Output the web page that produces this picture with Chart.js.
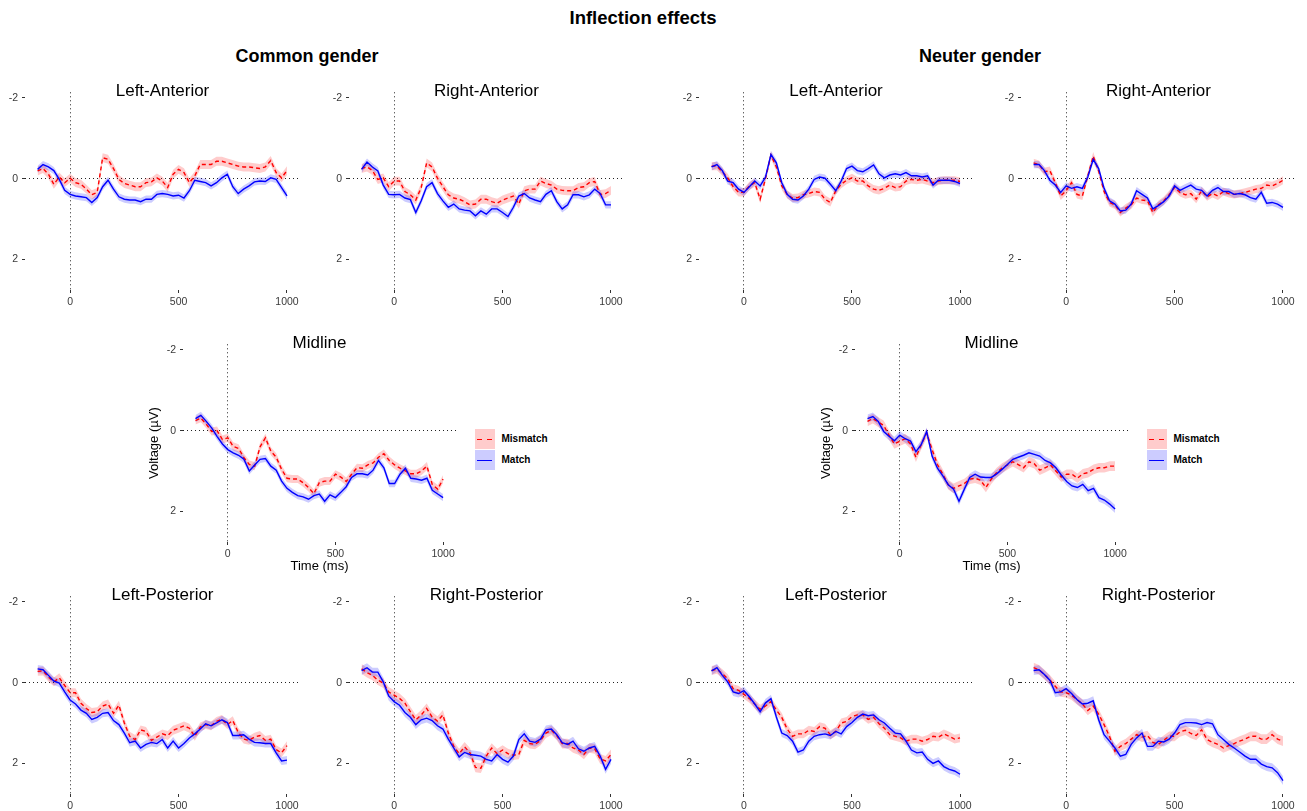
<!DOCTYPE html>
<html>
<head>
<meta charset="utf-8">
<title>Inflection effects</title>
<script src="https://cdn.jsdelivr.net/npm/chart.js@4.4.1/dist/chart.umd.min.js"></script>
<style>
  html, body { margin: 0; padding: 0; background: #fff; }
  body { width: 1307px; height: 811px; position: relative; overflow: hidden;
         font-family: "Liberation Sans", Arial, sans-serif; }
  canvas { position: absolute; }
  .txt { position: absolute; transform: translate(-50%, -50%); white-space: nowrap; color: #000; line-height: 1; }
  .key { position: absolute; width: 20px; height: 20px; }
  .keyline { position: absolute; left: 2px; width: 15px; height: 1px; top: 10px; }
  .keytxt { position: absolute; font-size: 10px; font-weight: bold; color: #000; line-height: 1; transform: translateY(-50%); }
</style>
</head>
<body>
<script>
// time axis (ms)
const times = [-150, -125, -100, -75, -50, -25, 0, 25, 50, 75, 100, 125, 150, 175, 200, 225, 250, 275, 300, 325,
  350, 375, 400, 425, 450, 475, 500, 525, 550, 575, 600, 625, 650, 675, 700, 725, 750, 775, 800, 825,
  850, 875, 900, 925, 950, 975, 1000];

const xTicks = [0, 500, 1000];
const yTicks = [-2, 0, 2];
const conditions = ['Mismatch', 'Match'];

// valores (µV), uno por instante de "times"
const commonLAMismatch = [-0.19, -0.25, -0.11, 0.14, -0.04, 0.1, -0.01, 0.1, 0.14, 0.26, 0.4, 0.34, -0.52, -0.48, -0.25, 0.02, 0.12, 0.16, 0.2, 0.2, 0.1, 0.08, -0.02, 0.06, 0.22, -0.11, -0.23, -0.15, 0.1, -0.07, -0.35, -0.35, -0.35, -0.43, -0.43, -0.39, -0.35, -0.31, -0.29, -0.29, -0.27, -0.25, -0.29, -0.45, -0.15, -0.02, -0.2];
const commonLAMatch = [-0.23, -0.35, -0.29, -0.2, 0.02, 0.29, 0.39, 0.43, 0.45, 0.47, 0.59, 0.47, 0.2, 0.04, 0.26, 0.45, 0.51, 0.53, 0.53, 0.57, 0.51, 0.51, 0.39, 0.37, 0.39, 0.43, 0.41, 0.48, 0.3, 0.04, 0.07, 0.1, 0.18, 0.1, -0.02, -0.11, 0.2, 0.37, 0.26, 0.18, 0.08, 0.06, 0.07, -0.02, 0.02, 0.22, 0.43];

const commonRAMismatch = [-0.25, -0.29, -0.2, 0.02, -0.02, 0.2, 0.06, 0.06, 0.32, 0.4, 0.53, 0.22, -0.39, -0.29, -0.01, 0.2, 0.4, 0.48, 0.51, 0.57, 0.65, 0.63, 0.51, 0.51, 0.57, 0.61, 0.53, 0.48, 0.43, 0.63, 0.3, 0.26, 0.26, 0.06, 0.12, 0.16, 0.26, 0.29, 0.3, 0.3, 0.22, 0.2, 0.1, 0.07, 0.39, 0.37, 0.29];
const commonRAMatch = [-0.23, -0.41, -0.29, -0.19, 0.16, 0.39, 0.4, 0.39, 0.48, 0.52, 0.84, 0.55, 0.2, 0.1, 0.37, 0.55, 0.71, 0.63, 0.75, 0.78, 0.8, 0.92, 0.8, 0.88, 0.75, 0.75, 0.84, 0.94, 0.71, 0.43, 0.37, 0.48, 0.53, 0.57, 0.39, 0.3, 0.57, 0.75, 0.65, 0.4, 0.4, 0.45, 0.4, 0.26, 0.37, 0.65, 0.65];

const neuterLAMismatch = [-0.31, -0.31, -0.17, -0.02, 0.2, 0.34, 0.34, 0.18, 0.1, 0.51, -0.01, -0.58, -0.29, 0.18, 0.39, 0.48, 0.47, 0.4, 0.37, 0.32, 0.34, 0.51, 0.59, 0.3, 0.14, 0.04, -0.02, 0.06, 0.06, 0.18, 0.26, 0.29, 0.24, 0.16, 0.22, 0.2, 0.06, 0.02, 0.04, 0.02, 0.06, 0.1, 0.06, 0.04, 0.04, 0.04, 0.07];
const neuterLAMatch = [-0.29, -0.35, -0.2, 0.06, 0.1, 0.26, 0.34, 0.2, 0.06, 0.18, -0.04, -0.6, -0.39, 0.1, 0.39, 0.51, 0.53, 0.43, 0.26, 0.02, -0.04, -0.01, 0.14, 0.3, 0.06, -0.25, -0.31, -0.2, -0.17, -0.25, -0.34, -0.12, -0.02, -0.09, -0.12, -0.09, -0.15, -0.07, -0.07, -0.04, -0.07, 0.16, 0.04, 0.04, 0.04, 0.07, 0.12];

const neuterRAMismatch = [-0.39, -0.35, -0.17, -0.2, 0.1, 0.43, 0.3, 0.1, 0.39, 0.43, -0.07, -0.56, -0.19, 0.32, 0.59, 0.65, 0.84, 0.73, 0.65, 0.48, 0.53, 0.55, 0.84, 0.65, 0.55, 0.4, 0.22, 0.34, 0.4, 0.37, 0.51, 0.3, 0.45, 0.37, 0.43, 0.32, 0.37, 0.39, 0.37, 0.34, 0.3, 0.26, 0.24, 0.16, 0.18, 0.12, 0.04];
const neuterRAMatch = [-0.35, -0.35, -0.2, 0.04, 0.16, 0.34, 0.18, 0.24, 0.2, 0.24, -0.04, -0.48, -0.25, 0.24, 0.55, 0.63, 0.8, 0.78, 0.63, 0.3, 0.39, 0.48, 0.75, 0.67, 0.57, 0.43, 0.18, 0.29, 0.22, 0.16, 0.26, 0.29, 0.43, 0.29, 0.22, 0.32, 0.32, 0.39, 0.37, 0.4, 0.47, 0.51, 0.34, 0.61, 0.59, 0.63, 0.71];

const commonMidMismatch = [-0.25, -0.31, -0.16, 0.02, 0.0, 0.22, 0.18, 0.39, 0.44, 0.67, 0.84, 0.88, 0.4, 0.18, 0.51, 0.66, 0.96, 1.18, 1.2, 1.2, 1.29, 1.41, 1.56, 1.29, 1.25, 1.25, 1.08, 1.15, 1.26, 1.08, 0.92, 0.93, 0.85, 0.8, 0.66, 0.57, 0.74, 0.85, 0.93, 1.0, 1.07, 1.07, 1.0, 0.88, 1.34, 1.45, 1.2];
const commonMidMatch = [-0.3, -0.38, -0.23, -0.07, 0.14, 0.33, 0.47, 0.55, 0.61, 0.71, 1.0, 0.85, 0.71, 0.69, 0.88, 0.98, 1.25, 1.43, 1.53, 1.61, 1.64, 1.7, 1.61, 1.57, 1.75, 1.59, 1.66, 1.53, 1.39, 1.16, 1.07, 1.07, 1.1, 0.98, 0.74, 0.92, 1.31, 1.31, 1.08, 0.93, 1.18, 1.2, 1.23, 1.18, 1.48, 1.57, 1.66];

const neuterMidMismatch = [-0.23, -0.3, -0.21, -0.13, 0.11, 0.33, 0.26, 0.2, 0.33, 0.66, 0.34, 0.06, 0.47, 0.84, 1.08, 1.34, 1.43, 1.37, 1.31, 1.2, 1.18, 1.23, 1.41, 1.2, 1.04, 0.93, 0.85, 0.77, 0.84, 0.92, 0.77, 0.82, 0.98, 0.92, 0.85, 1.0, 1.15, 1.08, 1.08, 1.18, 1.07, 1.04, 0.96, 0.92, 0.92, 0.88, 0.88];
const neuterMidMatch = [-0.3, -0.35, -0.23, 0.02, 0.14, 0.25, 0.11, 0.2, 0.26, 0.52, 0.34, 0.02, 0.63, 0.93, 1.12, 1.34, 1.45, 1.75, 1.45, 1.16, 1.08, 1.15, 1.16, 1.16, 1.07, 0.96, 0.84, 0.71, 0.66, 0.61, 0.55, 0.59, 0.63, 0.74, 0.8, 0.92, 1.1, 1.26, 1.37, 1.41, 1.33, 1.49, 1.43, 1.66, 1.72, 1.82, 1.94];

const commonLPMismatch = [-0.28, -0.29, -0.14, -0.02, -0.12, 0.07, 0.25, 0.25, 0.51, 0.64, 0.74, 0.72, 0.58, 0.53, 0.76, 0.56, 1.0, 1.33, 1.41, 1.17, 1.21, 1.43, 1.35, 1.27, 1.31, 1.18, 1.13, 1.07, 1.13, 1.33, 1.1, 1.04, 1.07, 0.96, 0.91, 1.04, 0.94, 1.23, 1.4, 1.43, 1.35, 1.31, 1.43, 1.4, 1.66, 1.74, 1.56];
const commonLPMatch = [-0.34, -0.32, -0.18, -0.04, 0.01, 0.23, 0.43, 0.53, 0.68, 0.76, 0.91, 0.86, 0.76, 0.74, 0.94, 1.04, 1.25, 1.49, 1.45, 1.62, 1.53, 1.48, 1.51, 1.41, 1.62, 1.45, 1.62, 1.51, 1.37, 1.27, 1.15, 1.02, 1.07, 1.0, 0.92, 0.99, 1.31, 1.31, 1.29, 1.4, 1.48, 1.49, 1.51, 1.51, 1.74, 1.94, 1.92];

const commonRPMismatch = [-0.34, -0.25, -0.18, -0.06, 0.01, 0.23, 0.31, 0.39, 0.51, 0.72, 0.92, 0.8, 0.64, 0.85, 0.95, 0.8, 1.25, 1.58, 1.76, 1.59, 1.74, 2.1, 2.12, 1.82, 1.62, 1.76, 1.67, 1.76, 1.8, 1.78, 1.43, 1.51, 1.53, 1.43, 1.25, 1.18, 1.31, 1.51, 1.51, 1.62, 1.67, 1.78, 1.62, 1.64, 1.89, 1.94, 1.78];
const commonRPMatch = [-0.3, -0.37, -0.26, -0.26, -0.02, 0.33, 0.47, 0.56, 0.74, 0.86, 1.04, 0.92, 0.88, 0.94, 1.07, 1.15, 1.4, 1.62, 1.84, 1.73, 1.78, 1.8, 1.82, 1.9, 1.94, 1.78, 1.9, 1.97, 1.82, 1.41, 1.27, 1.45, 1.48, 1.4, 1.17, 1.15, 1.29, 1.49, 1.53, 1.45, 1.64, 1.7, 1.62, 1.58, 1.82, 2.15, 1.9];

const neuterLPMismatch = [-0.3, -0.33, -0.22, -0.1, 0.15, 0.19, 0.29, 0.39, 0.53, 0.66, 0.58, 0.47, 0.68, 0.86, 1.15, 1.33, 1.27, 1.27, 1.18, 1.21, 1.09, 1.13, 1.29, 1.21, 1.0, 0.96, 0.84, 0.8, 0.8, 0.91, 0.86, 1.02, 1.13, 1.29, 1.33, 1.37, 1.45, 1.4, 1.4, 1.45, 1.41, 1.33, 1.35, 1.27, 1.33, 1.4, 1.37];
const neuterLPMatch = [-0.29, -0.37, -0.18, -0.02, 0.23, 0.27, 0.2, 0.35, 0.53, 0.72, 0.5, 0.4, 0.85, 1.25, 1.31, 1.45, 1.72, 1.67, 1.45, 1.33, 1.29, 1.27, 1.31, 1.21, 1.27, 1.09, 0.99, 0.86, 0.78, 0.82, 0.8, 0.92, 1.0, 1.13, 1.25, 1.27, 1.45, 1.67, 1.74, 1.72, 1.9, 2.0, 1.94, 2.08, 2.15, 2.19, 2.27];

const neuterRPMismatch = [-0.37, -0.32, -0.2, -0.07, 0.09, 0.23, 0.25, 0.31, 0.42, 0.53, 0.69, 0.58, 0.78, 1.04, 1.33, 1.7, 1.58, 1.51, 1.4, 1.29, 1.35, 1.31, 1.48, 1.53, 1.43, 1.33, 1.33, 1.22, 1.18, 1.26, 1.31, 1.17, 1.41, 1.48, 1.53, 1.62, 1.56, 1.51, 1.45, 1.4, 1.33, 1.33, 1.4, 1.4, 1.29, 1.4, 1.45];
const neuterRPMatch = [-0.3, -0.32, -0.2, -0.06, 0.25, 0.23, 0.15, 0.27, 0.42, 0.53, 0.51, 0.45, 0.92, 1.29, 1.45, 1.62, 1.82, 1.78, 1.53, 1.37, 1.25, 1.58, 1.58, 1.45, 1.47, 1.4, 1.25, 1.04, 0.99, 0.99, 1.0, 1.04, 0.99, 1.02, 1.29, 1.41, 1.53, 1.62, 1.72, 1.82, 1.9, 1.9, 2.02, 2.08, 2.11, 2.23, 2.43];

// error estandar aproximado (ancho de la banda), por panel
const seMismatch = [0.11, 0.11, 0.1, 0.1, 0.1, 0.12, 0.11, 0.12, 0.11, 0.12];
const seMatch = [0.09, 0.09, 0.09, 0.09, 0.09, 0.1, 0.1, 0.11, 0.1, 0.11];

// ---------- layout ----------
const FONT = '"Liberation Sans", Arial, sans-serif';
const X_MIN = -208, X_MAX = 1060;
const Y_MIN = -2.14, Y_MAX = 2.76;
const PLOT_H = 200;
const RED = '#FF0000', BLUE = '#0000FF';
const RED_FILL = 'rgba(255,0,0,0.2)', BLUE_FILL = 'rgba(0,0,255,0.2)';

const panels = [
  { title: 'Left-Anterior',   left: 25,   top: 90,  w: 275, mismatch: commonLAMismatch,  match: commonLAMatch },
  { title: 'Right-Anterior',  left: 349,  top: 90,  w: 275, mismatch: commonRAMismatch,  match: commonRAMatch },
  { title: 'Left-Anterior',   left: 699,  top: 90,  w: 274, mismatch: neuterLAMismatch,  match: neuterLAMatch },
  { title: 'Right-Anterior',  left: 1021, top: 90,  w: 275, mismatch: neuterRAMismatch,  match: neuterRAMatch },
  { title: 'Midline',         left: 183,  top: 342, w: 273, mismatch: commonMidMismatch, match: commonMidMatch, mid: true },
  { title: 'Midline',         left: 855,  top: 342, w: 273, mismatch: neuterMidMismatch, match: neuterMidMatch, mid: true },
  { title: 'Left-Posterior',  left: 25,   top: 594, w: 275, mismatch: commonLPMismatch,  match: commonLPMatch },
  { title: 'Right-Posterior', left: 349,  top: 594, w: 275, mismatch: commonRPMismatch,  match: commonRPMatch },
  { title: 'Left-Posterior',  left: 699,  top: 594, w: 274, mismatch: neuterLPMismatch,  match: neuterLPMatch },
  { title: 'Right-Posterior', left: 1021, top: 594, w: 275, mismatch: neuterRPMismatch,  match: neuterRPMatch }
];

function addText(txt, x, y, css) {
  const d = document.createElement('div');
  d.className = 'txt';
  d.textContent = txt;
  d.style.left = x + 'px';
  d.style.top = y + 'px';
  Object.assign(d.style, css || {});
  document.body.appendChild(d);
}

function addLegend(x, y) {
  const colors = [[RED_FILL, RED, true], [BLUE_FILL, BLUE, false]];
  conditions.forEach((name, i) => {
    const k = document.createElement('div');
    k.className = 'key';
    k.style.left = x + 'px';
    k.style.top = (y + i * 20.5) + 'px';
    k.style.background = colors[i][0];
    const l = document.createElement('div');
    l.className = 'keyline';
    l.style.background = colors[i][2]
      ? 'repeating-linear-gradient(to right, ' + RED + ' 0 5px, transparent 5px 10px)'
      : colors[i][1];
    k.appendChild(l);
    document.body.appendChild(k);
    const t = document.createElement('div');
    t.className = 'keytxt';
    t.textContent = name;
    t.style.left = (x + 26.5) + 'px';
    t.style.top = (y + i * 20.5 + 10) + 'px';
    document.body.appendChild(t);
  });
}

const pts = (vals, off) => times.map((t, i) => ({ x: t, y: vals[i] + off }));

function axisGrid() {
  return {
    color: c => (c.tick && c.tick.value === 0) ? '#222222' : 'rgba(0,0,0,0)',
    lineWidth: 1,
    drawTicks: true,
    tickLength: 3,
    tickColor: '#333333',
    tickWidth: 1,
    tickBorderDash: []
  };
}

function drawPanel(p, idx) {
  const mid = !!p.mid;
  const yAxisW = mid ? 40 : 30;
  const xAxisH = mid ? 36 : 20;
  const padTop = 8, padRight = 12;
  const cw = yAxisW + p.w + padRight;
  const ch = padTop + PLOT_H + xAxisH;

  const canvas = document.createElement('canvas');
  canvas.width = cw;
  canvas.height = ch;
  canvas.style.left = (p.left - yAxisW) + 'px';
  canvas.style.top = (p.top - padTop) + 'px';
  canvas.style.width = cw + 'px';
  canvas.style.height = ch + 'px';
  document.body.appendChild(canvas);

  addText(p.title, p.left + p.w / 2, p.top - 0.5, { fontSize: '17px' });

  const seR = seMismatch[idx], seB = seMatch[idx];
  const line = { pointRadius: 0, borderWidth: 1.4, tension: 0, fill: false };
  const band = { pointRadius: 0, borderWidth: 0, borderColor: 'rgba(0,0,0,0)', tension: 0 };

  new Chart(canvas.getContext('2d'), {
    type: 'line',
    data: {
      datasets: [
        Object.assign({ label: 'Match', data: pts(p.match, 0), borderColor: BLUE }, line),
        Object.assign({ label: 'Mismatch', data: pts(p.mismatch, 0), borderColor: RED, borderDash: [4, 3] }, line),
        Object.assign({ data: pts(p.match, -seB), backgroundColor: BLUE_FILL, fill: '+1' }, band),
        Object.assign({ data: pts(p.match, seB), fill: false }, band),
        Object.assign({ data: pts(p.mismatch, -seR), backgroundColor: RED_FILL, fill: '+1' }, band),
        Object.assign({ data: pts(p.mismatch, seR), fill: false }, band)
      ]
    },
    options: {
      responsive: false,
      animation: false,
      events: [],
      layout: { padding: { top: padTop, right: padRight, left: 0, bottom: 0 } },
      plugins: { legend: { display: false }, tooltip: { enabled: false }, title: { display: false } },
      scales: {
        x: {
          type: 'linear',
          min: X_MIN,
          max: X_MAX,
          afterBuildTicks: s => { s.ticks = xTicks.map(v => ({ value: v })); },
          afterFit: s => { s.height = xAxisH; },
          ticks: { padding: 3, color: '#3a3a3a', font: { family: FONT, size: 10.5 },
                   maxRotation: 0, autoSkip: false, callback: v => String(v) },
          grid: axisGrid(),
          border: { display: false, dash: [1, 3] },
          title: { display: mid, text: 'Time (ms)', color: '#000', font: { family: FONT, size: 13 },
                   padding: { top: 4, bottom: 4 } }
        },
        y: {
          type: 'linear',
          reverse: true,
          min: Y_MIN,
          max: Y_MAX,
          afterBuildTicks: s => { s.ticks = yTicks.map(v => ({ value: v })); },
          afterFit: s => { s.width = yAxisW; },
          ticks: { padding: 4, color: '#3a3a3a', font: { family: FONT, size: 10.5 },
                   autoSkip: false, callback: v => String(v) },
          grid: axisGrid(),
          border: { display: false, dash: [1, 3] },
          title: { display: mid, text: 'Voltage (µV)', color: '#000', font: { family: FONT, size: 13 },
                   padding: { top: 4, bottom: 4 } }
        }
      }
    }
  });
}

// titulos generales
addText('Inflection effects', 643, 18, { fontSize: '18.5px', fontWeight: 'bold' });
addText('Common gender', 307, 56, { fontSize: '18px', fontWeight: 'bold' });
addText('Neuter gender', 980, 56, { fontSize: '18px', fontWeight: 'bold' });

panels.forEach(drawPanel);

addLegend(475, 429);
addLegend(1147, 429);
</script>
</body>
</html>
